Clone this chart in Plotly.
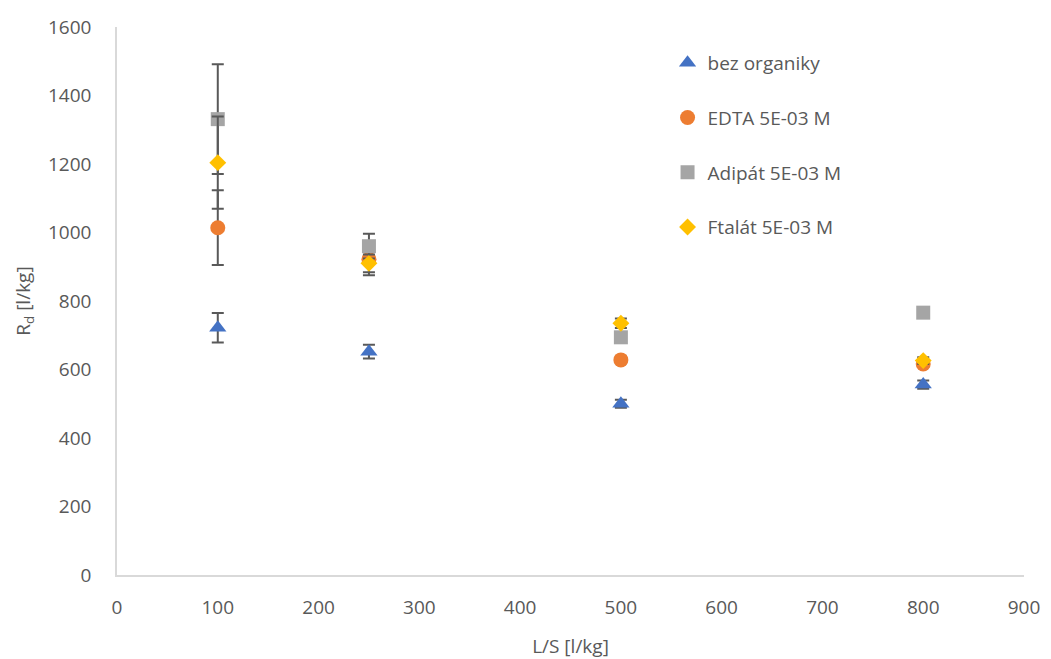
import plotly.graph_objects as go

ls_values = [100, 250, 500, 800]

series_names = ["bez organiky", "EDTA 5E-03 M", "Adipát 5E-03 M", "Ftalát 5E-03 M"]
bez_organiky = [722, 652, 500, 556]
bez_organiky_err = [43, 20, 12, 12]
edta = [1014, 922, 628, 616]
edta_err = [109, 47, 10, 8]
adipat = [1331, 960, 694, 766]
adipat_err = [160, 36, 8, 0]
ftalat = [1204, 910, 735, 626]
ftalat_err = [135, 26, 14, 10]

x_ticks = [0, 100, 200, 300, 400, 500, 600, 700, 800, 900]
y_ticks = [0, 200, 400, 600, 800, 1000, 1200, 1400, 1600]

styles = [
    ("triangle-up", "#4472C4", 15),
    ("circle", "#ED7D31", 15),
    ("square", "#A5A5A5", 14),
    ("diamond", "#FFC000", 13),
]
data = [(bez_organiky, bez_organiky_err), (edta, edta_err), (adipat, adipat_err), (ftalat, ftalat_err)]

fig = go.Figure()
for i, (name, (vals, errs), (sym, col, sz)) in enumerate(zip(series_names, data, styles)):
    fig.add_trace(go.Scatter(
        x=ls_values, y=vals, name=name, mode="markers",
        legendgroup=f"g{i}",
        marker=dict(symbol=sym, color=col, size=sz, line=dict(width=0)),
        error_y=dict(type="data", array=errs, visible=True, color="#595959", thickness=2, width=6),
    ))

font_family = "'Open Sans', Lato, sans-serif"
fc = "#595959"
fig.update_layout(
    width=1051, height=659,
    margin=dict(l=117, r=27, t=27, b=84, autoexpand=False),
    plot_bgcolor="white", paper_bgcolor="white",
    font=dict(family=font_family, size=19, color=fc),
    showlegend=True,
    legend=dict(x=0.607, y=0.969, xanchor="left", yanchor="top",
                font=dict(size=19, color=fc), tracegroupgap=27,
                itemwidth=30, bgcolor="rgba(0,0,0,0)"),
    xaxis=dict(range=[0, 900], tickvals=x_ticks, showgrid=False, zeroline=False,
               showline=True, linecolor="#D9D9D9", linewidth=1.5, ticks="",
               ticklabelstandoff=14, automargin=False,
               title=dict(text="L/S [l/kg]", font=dict(size=19, color=fc), standoff=22),
               tickfont=dict(size=19, color=fc)),
    yaxis=dict(range=[0, 1600], tickvals=y_ticks, showgrid=False, zeroline=False,
               showline=True, linecolor="#D9D9D9", linewidth=1.5, ticks="",
               ticklabelstandoff=20, automargin=False,
               title=dict(text="R<sub>d</sub> [l/kg]", font=dict(size=19, color=fc), standoff=12),
               tickfont=dict(size=19, color=fc)),
)

fig.write_html("out.html")
